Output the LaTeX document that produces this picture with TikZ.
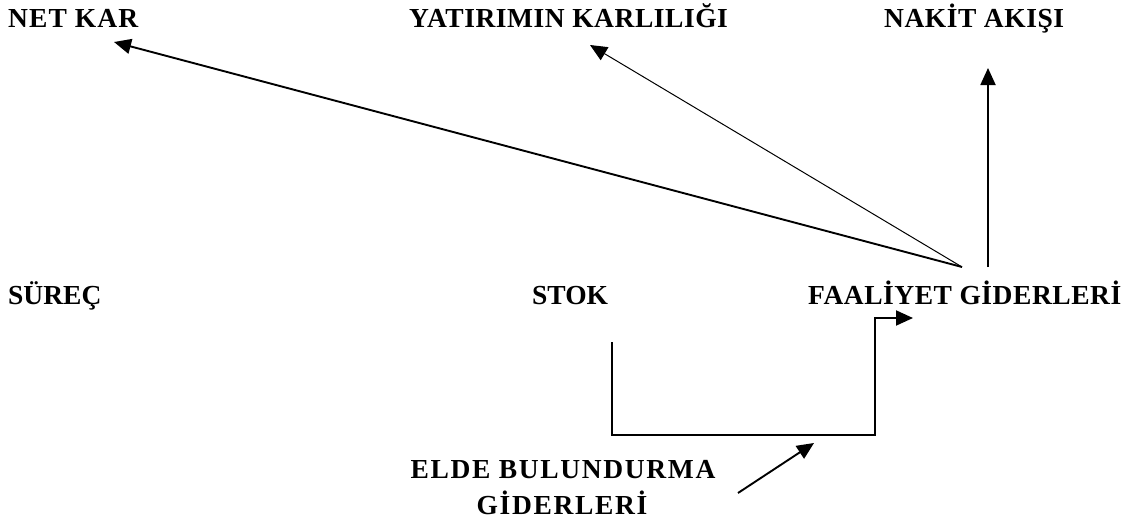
\documentclass[tikz,border=0pt]{standalone}
\usepackage{fontspec}
\setmainfont{Liberation Serif}
\newfontfamily\spacedA[LetterSpace=2]{Liberation Serif}
\newfontfamily\spacedC[LetterSpace=4]{Liberation Serif}
\newfontfamily\spacedB[LetterSpace=6]{Liberation Serif}
\usetikzlibrary{arrows.meta}
\tikzset{
  lbl/.style={inner sep=0pt, font=\fontsize{27.5}{30}\selectfont\bfseries},
  arr/.style={line width=1.9pt, -{Triangle[length=17pt,width=15pt]}},
  thinarr/.style={line width=1pt, -{Triangle[length=17pt,width=15pt]}},
}
\begin{document}
\begin{tikzpicture}[x=1pt,y=-1pt]
\useasboundingbox (0,0) rectangle (1132,519);
% labels
\node[lbl, anchor=base west, font=\fontsize{27.5}{30}\selectfont\spacedC\bfseries] (netkar) at (8,28) {NET KAR};
\node[lbl, anchor=base west, font=\fontsize{27.5}{30}\selectfont\spacedA\bfseries] (yatirim) at (409,28) {YATIRIMIN KARLILIĞI};
\node[lbl, anchor=base west, font=\fontsize{27.5}{30}\selectfont\spacedA\bfseries] (nakit) at (884,28) {NAKİT AKIŞI};
\node[lbl, anchor=base west] (surec) at (8,304) {SÜREÇ};
\node[lbl, anchor=base west] (stok) at (532,304) {STOK};
\node[lbl, anchor=base west, font=\fontsize{27.5}{30}\selectfont\spacedA\bfseries] (faal) at (808,304) {FAALİYET GİDERLERİ};
\node[lbl, anchor=base, font=\fontsize{27.5}{30}\selectfont\spacedB\bfseries] (elde1) at (563,478) {ELDE BULUNDURMA};
\node[lbl, anchor=base, font=\fontsize{27.5}{30}\selectfont\spacedB\bfseries] (elde2) at (562,514) {GİDERLERİ};
% connector points
\coordinate (fg) at (962,267);
\coordinate (nkTip) at (114,42);
\coordinate (ykTip) at (590,45);
\coordinate (naBase) at (988,267);
\coordinate (naTip) at (988,68);
\coordinate (s1) at (612,342);
\coordinate (s2) at (612,435);
\coordinate (s3) at (875,435);
\coordinate (s4) at (875,318);
\coordinate (s5) at (913,318);
\coordinate (e1) at (738,493);
\coordinate (e2) at (814,443);
% connectors
\draw[arr] (fg) -- (nkTip);
\draw[thinarr] (fg) -- (ykTip);
\draw[arr] (naBase) -- (naTip);
\draw[arr] (s1) -- (s2) -- (s3) -- (s4) -- (s5);
\draw[arr] (e1) -- (e2);
\end{tikzpicture}
\end{document}
